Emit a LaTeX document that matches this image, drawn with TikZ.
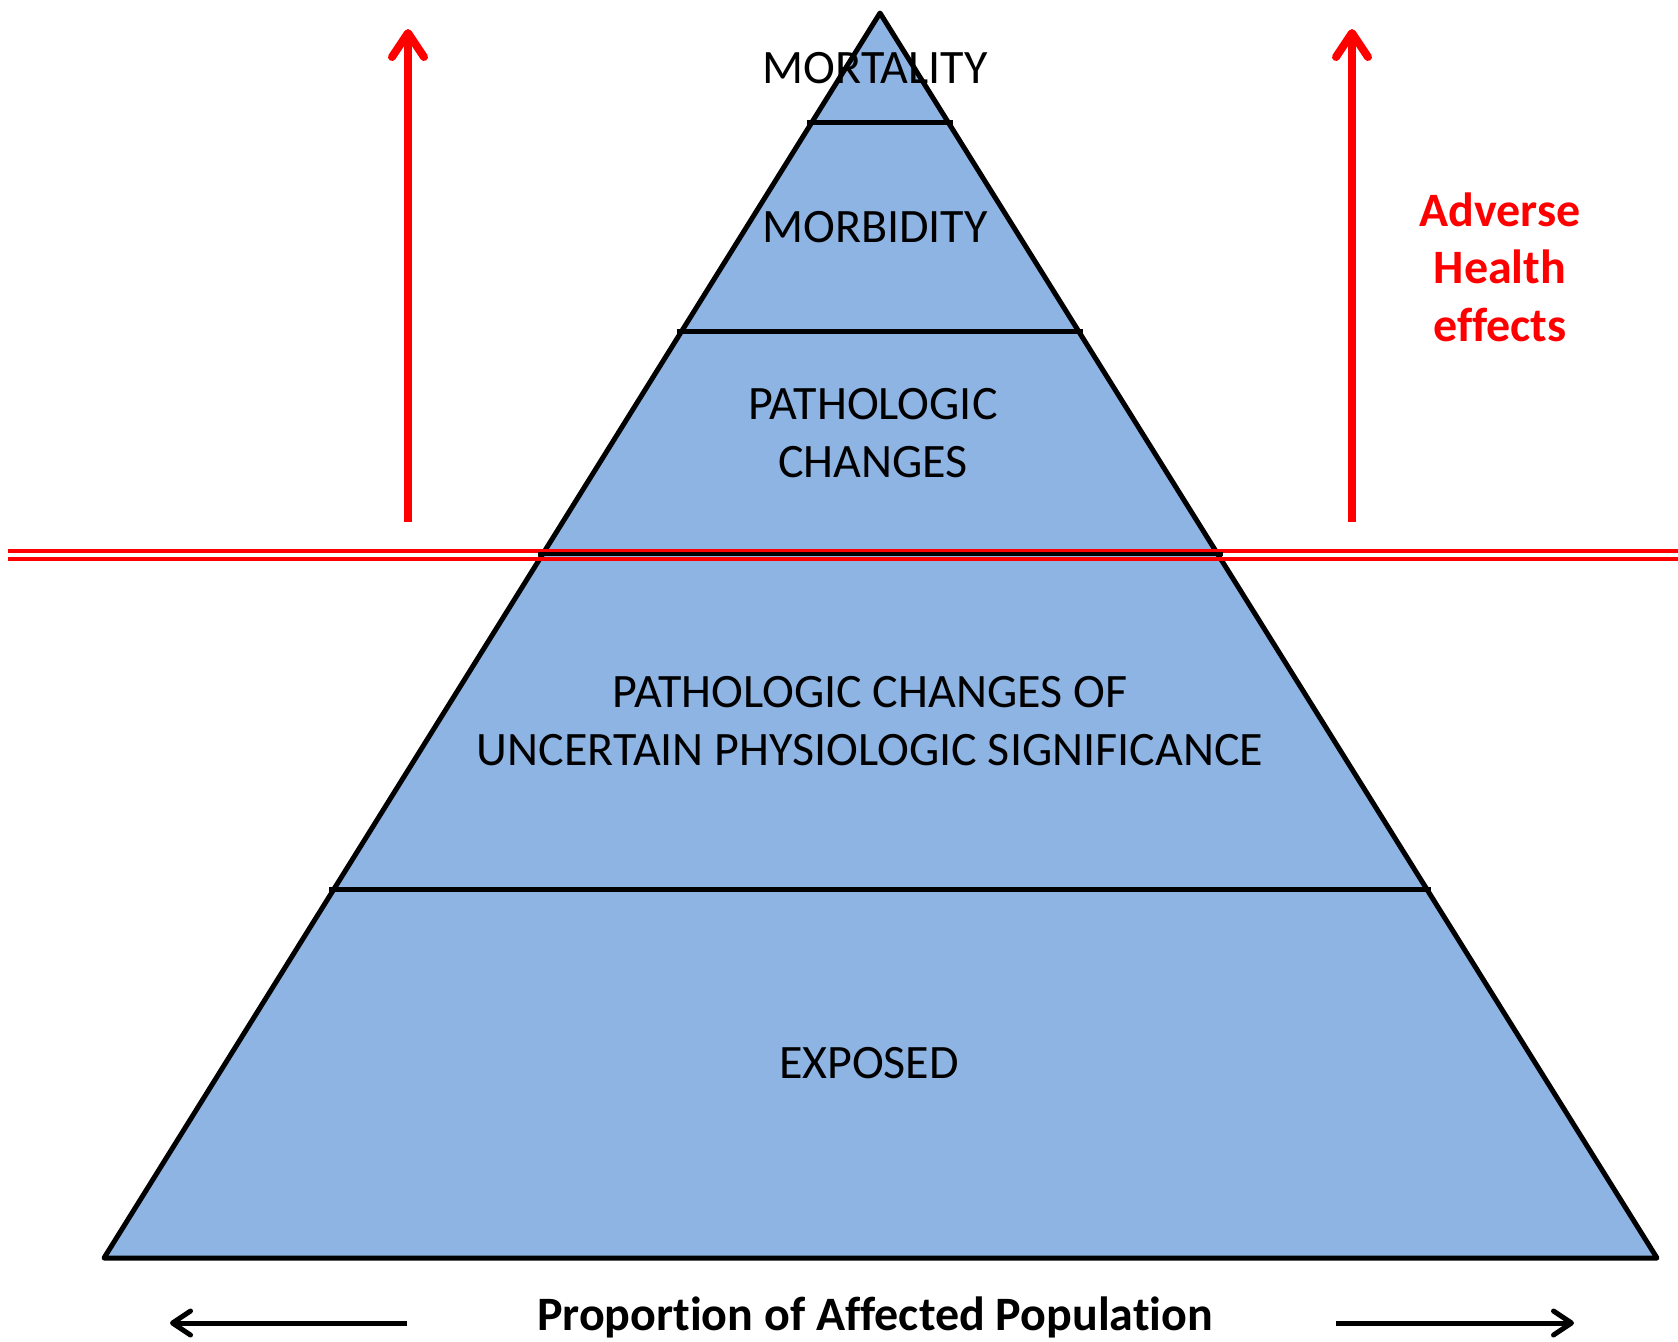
\documentclass[tikz,border=0pt]{standalone}
\usepackage{fontspec}
\setmainfont[Ligatures=NoCommon]{Carlito}
\usetikzlibrary{arrows.meta,calc}
\definecolor{tierblue}{HTML}{8EB4E3}
\definecolor{alertred}{HTML}{FF0000}
\begin{document}
\begin{tikzpicture}[x=1pt,y=-1pt,
  outline/.style={line width=5pt, line join=round},
  tierline/.style={line width=5pt, shorten <=-4pt, shorten >=-4pt},
  thresholdline/.style={draw=alertred, line width=4pt},
  tiertext/.style={font=\fontsize{48}{58}\selectfont, anchor=base, inner sep=0pt},
  healthtext/.style={font=\fontsize{48}{58}\selectfont\bfseries, text=alertred, anchor=base, inner sep=0pt},
  axistext/.style={font=\fontsize{48}{58}\selectfont\bfseries, anchor=base, inner sep=0pt},
  uparrow/.style={draw=alertred, line width=8pt,
    -{Straight Barb[length=24pt, width=32pt, round]}},
  sidearrow/.style={draw=black, line width=5pt,
    -{Straight Barb[length=18pt, width=24pt, round]}}]
\useasboundingbox (0,0) rectangle (1678,1341);

% pyramid corners
\coordinate (apex) at (880,13);
\coordinate (bl) at (104,1258);
\coordinate (br) at (1657,1258);
\fill[tierblue] (apex) -- (bl) -- (br) -- cycle;

% tier boundaries on both edges
\coordinate (t1l) at ($(apex)!0.08835!(bl)$);
\coordinate (t1r) at ($(apex)!0.08835!(br)$);
\coordinate (t2l) at ($(apex)!0.2562!(bl)$);
\coordinate (t2r) at ($(apex)!0.2562!(br)$);
\coordinate (t3l) at ($(apex)!0.4345!(bl)$);
\coordinate (t3r) at ($(apex)!0.4345!(br)$);
\coordinate (t4l) at ($(apex)!0.7044!(bl)$);
\coordinate (t4r) at ($(apex)!0.7044!(br)$);

\draw[outline] (apex) -- (bl) -- (br) -- cycle;
\draw[tierline] (t1l) -- (t1r);
\draw[tierline] (t2l) -- (t2r);
\draw[tierline] (t4l) -- (t4r);

% double threshold line across the picture
\coordinate (thl) at (8,554.5);
\coordinate (thr) at (1678,554.5);
\draw[thresholdline] ([yshift=-4pt]thl) -- ([yshift=-4pt]thr);
\draw[thresholdline] ([yshift=4pt]thl) -- ([yshift=4pt]thr);
\draw[line width=4pt, shorten <=-5pt, shorten >=-5pt] (t3l) -- (t3r);

% upward arrows
\coordinate (la0) at (408,522);
\coordinate (la1) at (408,29);
\coordinate (ra0) at (1352,522);
\coordinate (ra1) at (1352,29);
\draw[uparrow] (la0) -- (la1);
\draw[uparrow] (ra0) -- (ra1);

% population arrows
\coordinate (pl0) at (407,1323);
\coordinate (pl1) at (170,1323);
\coordinate (pr0) at (1336,1323);
\coordinate (pr1) at (1574,1323);
\draw[sidearrow] (pl0) -- (pl1);
\draw[sidearrow] (pr0) -- (pr1);

% tier labels
\node[tiertext] (mort) at (875,83) {MORTALITY};
\node[tiertext] (morb) at (875,242) {MORBIDITY};
\node[tiertext] (path1) at (873,419) {PATHOLOGIC};
\node[tiertext] (path2) at (873,477) {CHANGES};
\node[tiertext] (unc1) at (870,707) {PATHOLOGIC CHANGES OF};
\node[tiertext] (unc2) at (870,765) {UNCERTAIN PHYSIOLOGIC SIGNIFICANCE};
\node[tiertext] (expo) at (869,1078) {EXPOSED};

% side label
\node[healthtext] (adv1) at (1500,226) {Adverse};
\node[healthtext] (adv2) at (1500,283) {Health};
\node[healthtext] (adv3) at (1500,341) {effects};

% axis label
\node[axistext] (prop) at (875,1330) {Proportion of Affected Population};
\end{tikzpicture}
\end{document}
